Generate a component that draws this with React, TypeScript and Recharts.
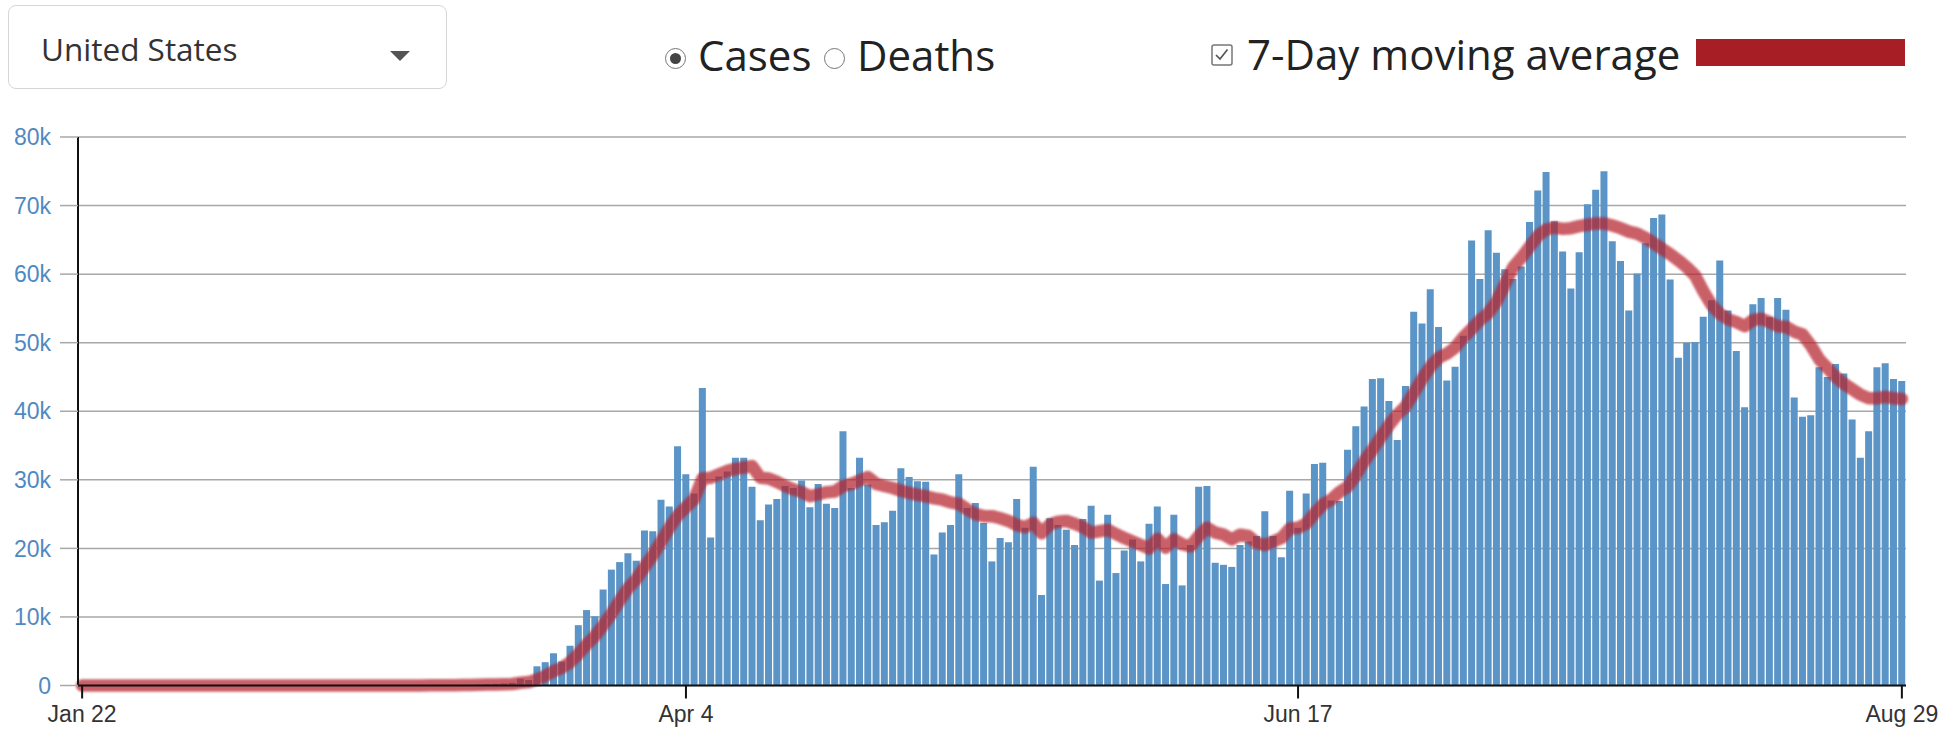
import { ComposedChart, Bar, Line, XAxis, YAxis, CartesianGrid } from "recharts";

// daily new cases, thousands
const janCases = [0.001, 0, 0.001, 0, 0.002, 0, 0, 0, 0, 0.001];
const febCases = [
  0.001, 0, 0.003, 0, 0, 0, 0, 0, 0.001, 0, 0, 0, 0, 0, 0, 0.001, 0, 0, 0, 0, 0, 0.002, 0, 0, 0, 0, 0.003, 0.001, 0.008,
];
const marCases = [
  0.01, 0.02, 0.02, 0.03, 0.05, 0.06, 0.09, 0.11, 0.1, 0.15, 0.2, 0.25, 0.3, 0.4, 1.0, 0.8, 2.8, 3.4, 4.7, 3.5, 5.8, 8.8,
  11.0, 10.1, 14.0, 16.9, 18.0, 19.3, 18.2, 22.6, 22.5,
];
const aprCases = [
  27.1, 26.1, 34.9, 30.8, 28.0, 43.4, 21.6, 30.5, 31.2, 33.2, 33.2, 29.0, 24.1, 26.4, 27.2, 29.1, 28.8, 29.9, 26.0, 29.4,
  26.5, 25.9, 37.1, 28.8, 33.2, 29.3, 23.4, 23.8, 25.5, 31.7,
];
const mayCases = [
  30.4, 29.8, 29.7, 19.1, 22.3, 23.4, 30.8, 25.9, 26.6, 23.7, 18.1, 21.5, 20.9, 27.2, 23.0, 31.9, 13.2, 24.4, 23.4, 22.7,
  20.5, 24.3, 26.2, 15.3, 24.9, 16.4, 19.7, 21.3, 18.1, 23.6, 26.1,
];
const junCases = [
  14.8, 24.9, 14.6, 20.5, 29.0, 29.1, 17.9, 17.6, 17.3, 20.5, 21.0, 21.8, 25.4, 21.8, 18.7, 28.4, 23.0, 28.0, 32.3, 32.5,
  27.0, 26.9, 34.4, 37.8, 40.7, 44.7, 44.8, 41.5, 35.8, 43.7,
];
const julCases = [
  54.5, 52.8, 57.8, 52.3, 44.5, 46.5, 51.0, 64.9, 59.3, 66.4, 63.1, 60.7, 59.3, 61.1, 67.6, 72.2, 74.9, 67.7, 63.3, 57.9,
  63.2, 70.2, 72.3, 75.0, 64.8, 61.9, 54.7, 60.1, 64.5, 68.2, 68.7,
];
const augCases = [
  59.2, 47.8, 50.0, 50.1, 53.8, 56.2, 62.0, 54.7, 48.8, 40.6, 55.6, 56.5, 53.7, 56.5, 54.8, 42.0, 39.2, 39.4, 46.4, 45.0,
  46.9, 45.5, 38.8, 33.2, 37.1, 46.4, 47.0, 44.7, 44.4,
];

// 7-day moving average line, thousands
const janAvg = [0, 0, 0, 0, 0, 0, 0, 0, 0, 0];
const febAvg = [
  0, 0, 0, 0, 0, 0, 0, 0, 0, 0, 0, 0, 0, 0, 0, 0, 0, 0, 0, 0, 0, 0, 0, 0, 0, 0, 0, 0, 0,
];
const marAvg = [
  0, 0.01, 0.01, 0.02, 0.03, 0.04, 0.05, 0.07, 0.08, 0.1, 0.13, 0.16, 0.19, 0.22, 0.4, 0.5, 0.9, 1.4, 2.1, 2.6, 3.4, 4.6,
  6.0, 7.2, 8.8, 10.5, 12.4, 14.2, 15.5, 17.3, 19.0,
];
const aprAvg = [
  21.0, 23.0, 24.8, 26.0, 27.2, 30.2, 30.3, 30.8, 31.3, 31.6, 31.8, 32.0, 30.3, 30.2, 29.7, 29.1, 28.6, 28.2, 27.6, 27.9,
  28.2, 28.3, 29.1, 29.4, 29.9, 30.4, 29.4, 29.1, 28.8, 28.4,
];
const mayAvg = [
  28.1, 27.8, 27.6, 27.3, 27.1, 26.7, 26.5, 25.7, 25.0, 24.7, 24.7, 24.4, 24.0, 23.4, 23.1, 23.7, 22.2, 23.5, 23.9, 24.0,
  23.6, 23.1, 22.3, 22.5, 22.7, 22.1, 21.5, 21.0, 20.5, 20.0, 21.4,
];
const junAvg = [
  20.1, 21.3, 20.6, 20.3, 21.8, 23.0, 22.3, 22.0, 21.3, 22.0, 21.8, 20.8, 20.5, 21.0, 21.5, 22.9, 23.0, 23.6, 25.1, 26.4,
  27.1, 28.2, 29.0, 30.7, 32.7, 34.4, 36.2, 38.0, 39.5, 40.7,
];
const julAvg = [
  42.7, 44.7, 46.5, 47.8, 48.4, 49.3, 50.8, 52.0, 53.3, 54.3, 56.0, 58.5, 61.0, 62.4, 64.0, 65.6, 66.5, 66.8, 66.6, 66.7,
  67.0, 67.2, 67.4, 67.4, 67.1, 66.7, 66.2, 65.9, 65.3, 64.5, 63.7,
];
const augAvg = [
  62.9, 62.0, 61.0, 59.8, 57.5, 55.5, 54.2, 53.4, 53.0, 52.4, 53.3, 53.5, 53.0, 52.4, 52.3, 51.6, 51.2, 49.6, 47.6, 46.3,
  45.0, 44.0, 43.2, 42.4, 41.9, 41.9, 42.1, 41.9, 41.8,
];

const months = ["Jan", "Feb", "Mar", "Apr", "May", "Jun", "Jul", "Aug"];
const firstDay = [22, 1, 1, 1, 1, 1, 1, 1];
const casesByMonth = [janCases, febCases, marCases, aprCases, mayCases, junCases, julCases, augCases];
const avgByMonth = [janAvg, febAvg, marAvg, aprAvg, mayAvg, junAvg, julAvg, augAvg];

const xTicks = ["Jan 22", "Apr 4", "Jun 17", "Aug 29"];
const yTicks = [0, 10, 20, 30, 40, 50, 60, 70, 80];

const data = months.flatMap((m, mi) =>
  casesByMonth[mi].map((c, i) => ({
    date: `${m} ${firstDay[mi] + i}`,
    cases: c,
    avg: avgByMonth[mi][i],
  }))
);

const BAR = "#5b94c6";
const RED = "#a81e25";
const headFont = '"Open Sans", sans-serif';

function Ring({ x, y, checked }: { x: number; y: number; checked?: boolean }) {
  return (
    <div
      style={{
        position: "absolute",
        left: x - 11,
        top: y - 11,
        width: 19,
        height: 19,
        borderRadius: "50%",
        border: "1.5px solid #777",
        background: "#fff",
      }}
    >
      {checked && (
        <div
          style={{
            position: "absolute",
            left: 4,
            top: 4,
            width: 11,
            height: 11,
            borderRadius: "50%",
            background: "#444",
          }}
        />
      )}
    </div>
  );
}

const label = (left: number, baseline: number, size: number, color: string) => ({
  position: "absolute" as const,
  left,
  top: baseline - 0.888 * size,
  fontFamily: headFont,
  fontSize: size,
  lineHeight: `${size}px`,
  color,
  whiteSpace: "nowrap" as const,
});

export default function App() {
  return (
    <div
      style={{
        position: "absolute",
        left: 0,
        top: 0,
        width: 1958,
        height: 730,
        background: "#fff",
        overflow: "hidden",
      }}
    >
      <style>{`.ma-line path { filter: blur(1.2px); }`}</style>

      {/* country select */}
      <div
        style={{
          position: "absolute",
          left: 8,
          top: 5,
          width: 437,
          height: 82,
          border: "1px solid #d6d6d6",
          borderRadius: 8,
        }}
      />
      <div style={label(41, 61, 31.5, "#333")}>United States</div>
      <div
        style={{
          position: "absolute",
          left: 390,
          top: 51,
          width: 0,
          height: 0,
          borderLeft: "10px solid transparent",
          borderRight: "10px solid transparent",
          borderTop: "10px solid #555",
        }}
      />

      {/* cases / deaths radio */}
      <Ring x={676} y={59} checked />
      <div style={label(698, 71, 42, "#222")}>Cases</div>
      <Ring x={835} y={59} />
      <div style={label(857, 71, 42, "#222")}>Deaths</div>

      {/* moving average toggle */}
      <svg style={{ position: "absolute", left: 1211, top: 44 }} width={23} height={23}>
        <rect x={1} y={1} width={20} height={20} rx={2} fill="#fff" stroke="#777" strokeWidth={1.5} />
        <path d="M5 11 L9 15 L16.5 5.5" fill="none" stroke="#555" strokeWidth={1.7} />
      </svg>
      <div style={label(1247, 70, 42, "#222")}>7-Day moving average</div>
      <div style={{ position: "absolute", left: 1696, top: 39, width: 209, height: 27, background: RED }} />

      <div style={{ position: "absolute", left: 0, top: 0 }}>
        <ComposedChart
          width={1958}
          height={730}
          data={data}
          barCategoryGap={0.5}
          margin={{ top: 137, right: 52, bottom: 14.5, left: 18 }}
        >
          <CartesianGrid vertical={false} stroke="#a8a8a8" strokeWidth={1.5} />
          <XAxis
            dataKey="date"
            ticks={xTicks}
            interval={0}
            height={30}
            tickSize={13}
            tickMargin={7}
            axisLine={{ stroke: "#111", strokeWidth: 2 }}
            tickLine={{ stroke: "#111", strokeWidth: 2 }}
            tick={{ fill: "#333", fontSize: 23, fontFamily: "Liberation Sans, Arial, sans-serif" }}
          />
          <YAxis
            domain={[0, 80]}
            ticks={yTicks}
            interval={0}
            width={60}
            tickSize={18}
            tickMargin={9}
            tickFormatter={(v: number) => (v === 0 ? "0" : `${v}k`)}
            axisLine={{ stroke: "#111", strokeWidth: 2 }}
            tickLine={{ stroke: "#a8a8a8", strokeWidth: 1.5 }}
            tick={{ fill: "#4f89c2", fontSize: 23, fontFamily: "Liberation Sans, Arial, sans-serif" }}
          />
          <Bar dataKey="cases" fill={BAR} isAnimationActive={false} />
          <Line
            className="ma-line"
            type="linear"
            dataKey="avg"
            stroke="#b5232d"
            strokeOpacity={0.72}
            strokeWidth={12.5}
            strokeLinecap="round"
            strokeLinejoin="round"
            dot={false}
            activeDot={false}
            isAnimationActive={false}
          />
        </ComposedChart>
      </div>
    </div>
  );
}
